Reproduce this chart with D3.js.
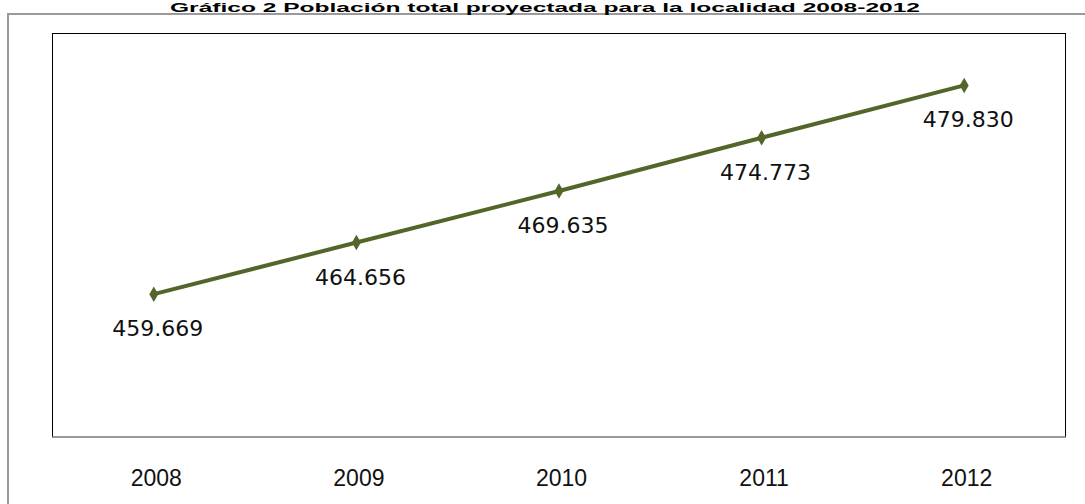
<!DOCTYPE html>
<html>
<head>
<meta charset="utf-8">
<script src="https://cdn.jsdelivr.net/npm/d3@7"></script>
<style>
  body { margin: 0; background: #fff; }
</style>
</head>
<body>
<div id="chart"></div>
<script>
'use strict';

var years = ['2008', '2009', '2010', '2011', '2012'];
var population = [459669, 464656, 469635, 474773, 479830];
var labels = ['459.669', '464.656', '469.635', '474.773', '479.830'];
var title = 'Gráfico 2 Población total proyectada para la localidad 2008-2012';

var width = 1085;
var height = 504;
var plot = { left: 52.5, top: 33.5, right: 1065.5, bottom: 437 };

var svg = d3.select('#chart')
    .append('svg')
    .attr('width', width)
    .attr('height', height);

// outer frame (cut by the page edges)
svg.append('path')
    .attr('d', 'M8,' + height + 'V14H' + width)
    .attr('fill', 'none')
    .style('stroke', '#9a9a9a')
    .style('stroke-width', 2);

svg.append('text')
    .attr('x', 545)
    .attr('y', 11.5)
    .attr('text-anchor', 'middle')
    .attr('textLength', 750)
    .attr('lengthAdjust', 'spacingAndGlyphs')
    .style('font-family', 'Liberation Sans, sans-serif')
    .style('font-weight', 'bold')
    .style('font-size', '12px')
    .text(title);

var x = d3.scalePoint()
    .domain(years)
    .range([plot.left, plot.right])
    .padding(0.5);

var y = d3.scaleLinear()
    .domain([445875, 484846])
    .range([plot.bottom, plot.top]);

// plot area box
svg.append('rect')
    .attr('x', plot.left)
    .attr('y', plot.top)
    .attr('width', plot.right - plot.left)
    .attr('height', plot.bottom - plot.top)
    .attr('fill', '#fff')
    .style('stroke', '#000')
    .style('stroke-width', 1);

svg.append('line')
    .attr('x1', plot.left)
    .attr('x2', plot.right)
    .attr('y1', plot.bottom)
    .attr('y2', plot.bottom)
    .style('stroke', '#9a9a9a')
    .style('stroke-width', 2);

var xAxis = svg.append('g')
    .attr('transform', 'translate(2,' + (plot.bottom + 49) + ')')
    .call(d3.axisBottom(x).tickSize(0).tickPadding(0));

xAxis.select('.domain').remove();
xAxis.selectAll('text')
    .style('font-family', 'Liberation Sans, sans-serif')
    .style('font-size', '23px')
    .attr('dy', 0)
    .attr('fill', '#111');

var line = d3.line()
    .x(function(d, i) { return x(years[i]); })
    .y(function(d) { return y(d); });

svg.append('path')
    .datum(population)
    .attr('d', line)
    .attr('fill', 'none')
    .style('stroke', '#526629')
    .style('stroke-width', 4);

svg.selectAll('.marker')
    .data(population)
    .enter()
    .append('path')
    .attr('class', 'marker')
    .attr('d', d3.symbol().type(d3.symbolDiamond).size(70))
    .attr('transform', function(d, i) {
        return 'translate(' + x(years[i]) + ',' + y(d) + ')';
    })
    .attr('fill', '#526629');

svg.selectAll('.label')
    .data(population)
    .enter()
    .append('text')
    .attr('class', 'label')
    .attr('x', function(d, i) { return x(years[i]) + 4; })
    .attr('y', function(d) { return y(d) + 42; })
    .attr('text-anchor', 'middle')
    .style('font-family', 'DejaVu Sans, sans-serif')
    .style('font-size', '22px')
    .attr('fill', '#111')
    .text(function(d, i) { return labels[i]; });
</script>
</body>
</html>
